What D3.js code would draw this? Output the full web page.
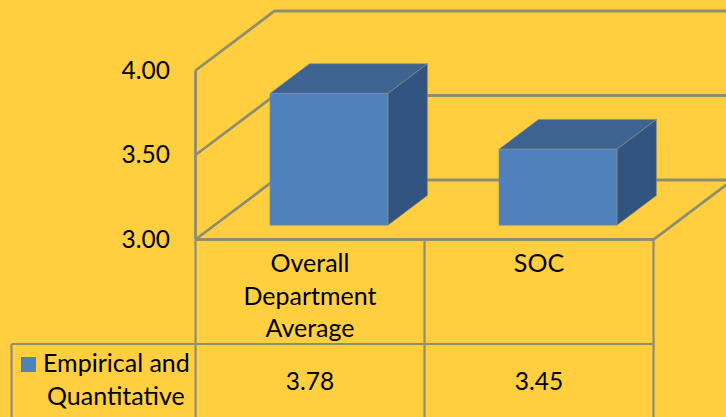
<!DOCTYPE html>
<html>
<head>
<meta charset="utf-8">
<script src="https://cdn.jsdelivr.net/npm/d3@7"></script>
<style>
html, body { margin: 0; padding: 0; background: #ffcf40; overflow: hidden; }
text { font-family: Lato, "Open Sans", sans-serif; font-size: 25px; fill: #000; }
</style>
</head>
<body>
<script>
let width = 726;
let height = 417;

let categories = ["Overall Department Average", "SOC"];
let categoryLines = [["Overall", "Department", "Average"], ["SOC"]];
let seriesName = ["Empirical and", "Quantitative"];
let values = [3.78, 3.45];
let yTicks = [3, 3.5, 4];

let gridColor = "#8f8d70";
let barFront = "#4f81bd";
let barTop = "#3c6391";
let barSide = "#325481";

// floor depth of the 3d box
let depthX = 79;
let depthY = -59.5;
let barDepthStart = 0.24;
let barDepth = 0.5;

let svg = d3.select("body")
    .append("svg")
    .attr("width", width)
    .attr("height", height)
    .style("display", "block");

let x = d3.scaleBand().domain(categories).range([195.5, 653.5]).paddingInner(0).paddingOuter(0);
let y = d3.scaleLinear().domain([3, 4]).range([239.5, 70.5]);
let barWidth = x.bandwidth() * 0.515;

// back wall and side wall lines
let grid = svg.append("g")
    .attr("fill", "none")
    .attr("stroke", gridColor)
    .attr("stroke-width", 2.8);

yTicks.forEach(function(t) {
    grid.append("path")
        .attr("d", d3.line()([
            [x.range()[0], y(t)],
            [x.range()[0] + depthX, y(t) + depthY],
            [width + 10, y(t) + depthY]
        ]));
});

grid.append("path")
    .attr("d", d3.line()([[x.range()[0], y(3)], [x.range()[0], y(4)]]));

// floor
grid.append("path")
    .attr("d", d3.line()([
        [x.range()[0], y(3)],
        [x.range()[1], y(3)],
        [x.range()[1] + depthX, y(3) + depthY]
    ]));

// bars
let bars = svg.selectAll("g.bar")
    .data(values)
    .enter()
    .append("g")
    .attr("class", "bar")
    .attr("stroke", "#8a8f7a")
    .attr("stroke-width", 0.6)
    .attr("stroke-linejoin", "round");

function barPoints(d, i) {
    let left = x(categories[i]) + (x.bandwidth() - barWidth) / 2 + depthX * barDepthStart;
    let right = left + barWidth;
    let bottom = y(3) + depthY * barDepthStart;
    let top = bottom - (y(3) - y(d));
    return { left: left, right: right, bottom: bottom, top: top, dx: depthX * barDepth, dy: depthY * barDepth };
}

bars.append("path")
    .attr("fill", barTop)
    .attr("d", function(d, i) {
        let p = barPoints(d, i);
        return d3.line()([[p.left, p.top], [p.left + p.dx, p.top + p.dy], [p.right + p.dx, p.top + p.dy], [p.right, p.top]]) + "Z";
    });

bars.append("path")
    .attr("fill", barSide)
    .attr("d", function(d, i) {
        let p = barPoints(d, i);
        return d3.line()([[p.right, p.top], [p.right + p.dx, p.top + p.dy], [p.right + p.dx, p.bottom + p.dy], [p.right, p.bottom]]) + "Z";
    });

bars.append("path")
    .attr("fill", barFront)
    .attr("d", function(d, i) {
        let p = barPoints(d, i);
        return d3.line()([[p.left, p.top], [p.right, p.top], [p.right, p.bottom], [p.left, p.bottom]]) + "Z";
    });

// y axis labels
let yAxis = svg.append("g")
    .attr("transform", "translate(170, 0)")
    .call(d3.axisLeft(y).tickValues(yTicks).tickFormat(d3.format(".2f")).tickSize(0).tickPadding(0));
yAxis.select(".domain").remove();
yAxis.selectAll("text").style("font-family", "Lato, 'Open Sans', sans-serif").style("font-size", "24.5px").attr("fill", "#000");

// data table
let tableTop = 344;
let tableLeft = 11.5;
let table = svg.append("g")
    .attr("fill", "none")
    .attr("stroke", gridColor)
    .attr("stroke-width", 2.2);

categories.forEach(function(c) {
    table.append("line")
        .attr("x1", x(c)).attr("x2", x(c))
        .attr("y1", y(3)).attr("y2", height);
});
table.append("line")
    .attr("x1", x.range()[1]).attr("x2", x.range()[1])
    .attr("y1", y(3)).attr("y2", height);
table.append("line")
    .attr("x1", tableLeft).attr("x2", x.range()[1])
    .attr("y1", tableTop).attr("y2", tableTop);
table.append("line")
    .attr("x1", tableLeft).attr("x2", tableLeft)
    .attr("y1", tableTop).attr("y2", height);

// category names
categories.forEach(function(c, i) {
    svg.append("text")
        .attr("text-anchor", "middle")
        .selectAll("tspan")
        .data(categoryLines[i])
        .enter()
        .append("tspan")
        .attr("x", x(c) + x.bandwidth() / 2)
        .attr("y", function(d, j) { return 272 + j * 32.5; })
        .text(function(d) { return d; });
});

// values row
svg.selectAll("text.value")
    .data(values)
    .enter()
    .append("text")
    .attr("class", "value")
    .attr("text-anchor", "middle")
    .style("font-size", "24.5px")
    .attr("x", function(d, i) { return x(categories[i]) + x.bandwidth() / 2; })
    .attr("y", 390)
    .text(function(d) { return d3.format(".2f")(d); });

// legend key and series name
svg.append("rect")
    .attr("x", 21)
    .attr("y", 357)
    .attr("width", 15)
    .attr("height", 15)
    .attr("fill", barFront);

svg.append("text")
    .attr("x", 43)
    .attr("y", 372)
    .text(seriesName[0]);

svg.append("text")
    .attr("x", 47)
    .attr("y", 405)
    .text(seriesName[1]);
</script>
</body>
</html>
